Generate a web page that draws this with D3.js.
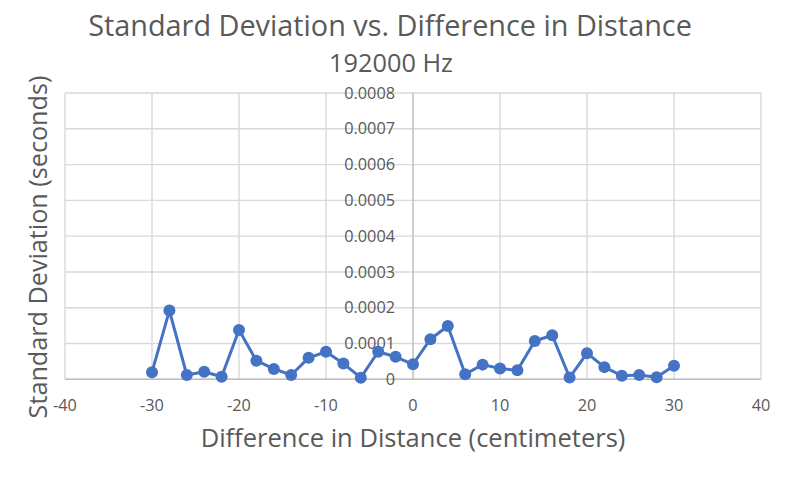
<!DOCTYPE html>
<html><head><meta charset="utf-8">
<script src="https://cdn.jsdelivr.net/npm/d3@7/dist/d3.min.js"></script>
<style>body{margin:0;background:#fff}svg{display:block}text{font-family:"Open Sans",sans-serif;fill:#595959}</style>
</head><body><svg id="c" width="793" height="483"></svg>
<script>
const distances = [-30,-28,-26,-24,-22,-20,-18,-16,-14,-12,-10,-8,-6,-4,-2,0,2,4,6,8,10,12,14,16,18,20,22,24,26,28,30];
const stdDev = [0.00002,0.000192,0.000012,0.000021,0.000007,0.000138,0.000052,0.000029,0.000012,0.00006,0.000077,0.000044,0.0000045,0.000077,0.000063,0.000042,0.000112,0.000149,0.000014,0.000041,0.00003,0.000025,0.000107,0.000123,0.000005,0.000073,0.000034,0.00001,0.000012,0.0000056,0.000038];
const xTicks = [-40,-30,-20,-10,0,10,20,30,40];
const yTicks = [0,0.0001,0.0002,0.0003,0.0004,0.0005,0.0006,0.0007,0.0008];
const titleText = "Standard Deviation vs. Difference in Distance";
const subtitleText = "192000 Hz";
const xTitle = "Difference in Distance (centimeters)";
const yTitle = "Standard Deviation (seconds)";

const svg = d3.select("#c");
const x = d3.scaleLinear().domain([-40,40]).range([65,761]);
const y = d3.scaleLinear().domain([0,0.0008]).range([379.3,93]);

// gridlines
svg.append("g").selectAll("line").data(yTicks).join("line")
  .attr("x1",x(-40)).attr("x2",x(40)).attr("y1",d=>y(d)).attr("y2",d=>y(d))
  .attr("stroke","#d9d9d9").attr("stroke-width",1.4);
svg.append("g").selectAll("line").data(xTicks.filter(d=>d!==0)).join("line")
  .attr("x1",d=>x(d)).attr("x2",d=>x(d)).attr("y1",y(0)).attr("y2",y(0.0008))
  .attr("stroke","#d9d9d9").attr("stroke-width",1.4);
// axes lines
svg.append("line").attr("x1",x(0)).attr("x2",x(0)).attr("y1",y(0)).attr("y2",y(0.0008))
  .attr("stroke","#bfbfbf").attr("stroke-width",1.5);
svg.append("line").attr("x1",x(-40)).attr("x2",x(40)).attr("y1",y(0)).attr("y2",y(0))
  .attr("stroke","#bfbfbf").attr("stroke-width",1.5);

// tick labels
svg.append("g").selectAll("text").data(yTicks).join("text")
  .attr("x",x(0)-18).attr("y",d=>y(d)).attr("dy","0.35em").attr("text-anchor","end")
  .style("font-size","16.3px").text(d=>d===0?"0":d3.format(".4f")(d));
svg.append("g").selectAll("text").data(xTicks).join("text")
  .attr("x",d=>x(d)).attr("y",405).attr("dy","0.35em").attr("text-anchor","middle")
  .style("font-size","16.3px").text(d=>d<0?"-"+Math.abs(d):d);

// line + markers
const line = d3.line().x((d,i)=>x(distances[i])).y(d=>y(d));
svg.append("path").datum(stdDev).attr("d",line).attr("fill","none")
  .attr("stroke","#4472C4").attr("stroke-width",3).attr("stroke-linejoin","round");
svg.append("g").selectAll("circle").data(stdDev).join("circle")
  .attr("cx",(d,i)=>x(distances[i])).attr("cy",d=>y(d)).attr("r",6)
  .attr("fill","#4472C4");

// titles, fitted to target widths
function fitText(sel, w){
  const n = sel.node(); const base = 20; sel.style("font-size",base+"px");
  const L = n.getComputedTextLength(); sel.style("font-size",(base*w/L)+"px");
}
const t1 = svg.append("text").attr("x",390).attr("y",26).attr("dy","0.35em").attr("text-anchor","middle").text(titleText);
fitText(t1,604);
const t2 = svg.append("text").attr("x",391).attr("y",63).attr("dy","0.35em").attr("text-anchor","middle").text(subtitleText);
fitText(t2,124);
const t3 = svg.append("text").attr("x",413).attr("y",438).attr("dy","0.35em").attr("text-anchor","middle").text(xTitle);
fitText(t3,425);
const t4 = svg.append("text").attr("transform","translate(38,247) rotate(-90)").attr("dy","0.35em").attr("text-anchor","middle").text(yTitle);
fitText(t4,343);
</script></body></html>
